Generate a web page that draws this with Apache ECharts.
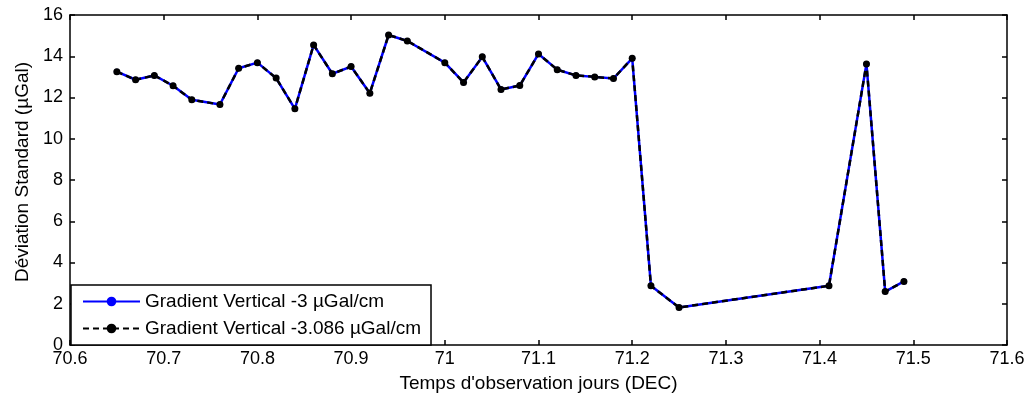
<!DOCTYPE html>
<html><head><meta charset="utf-8">
<script src="https://cdn.jsdelivr.net/npm/echarts@6/dist/echarts.min.js"></script>
<style>html,body{margin:0;padding:0;background:#fff}#c{width:1030px;height:398px}</style>
</head><body><div id="c"></div>
<script>
const xDays = [70.65,70.67,70.69,70.71,70.73,70.76,70.78,70.80,70.82,70.84,70.86,70.88,70.90,70.92,70.94,70.96,71.00,71.02,71.04,71.06,71.08,71.10,71.12,71.14,71.16,71.18,71.20,71.22,71.25,71.41,71.45,71.47,71.49];
const stdDev3 = [13.25,12.86,13.07,12.57,11.89,11.66,13.42,13.69,12.94,11.45,14.55,13.15,13.50,12.21,15.03,14.74,13.69,12.73,13.97,12.39,12.58,14.11,13.35,13.07,13.00,12.92,13.90,2.87,1.82,2.87,13.63,2.59,3.08];
const stdDev3086 = [13.25,12.86,13.07,12.57,11.89,11.66,13.42,13.69,12.94,11.45,14.55,13.15,13.50,12.21,15.03,14.74,13.69,12.73,13.97,12.39,12.58,14.11,13.35,13.07,13.00,12.92,13.90,2.87,1.82,2.87,13.63,2.59,3.08];
const seriesNames = ['Gradient Vertical -3 \u00b5Gal/cm','Gradient Vertical -3.086 \u00b5Gal/cm'];

const font = 'Liberation Sans, Arial, sans-serif';
const fs = 18, fsT = 19;
const chart = echarts.init(document.getElementById('c'));
const axisCommon = {
  axisLine:{show:true,onZero:false,lineStyle:{color:'#000',width:1.5}},
  axisTick:{show:true,inside:true,length:5,lineStyle:{color:'#000',width:1.5}},
  splitLine:{show:false}
};
chart.setOption({
  animation:false,
  backgroundColor:'#fff',
  grid:{left:70,right:23,top:15,bottom:52,show:false},
  legend:{
    orient:'vertical', left:71, top:285, padding:[7,10,7,11],
    backgroundColor:'#fff', borderColor:'#000', borderWidth:1.5,
    itemWidth:57, itemHeight:12, itemGap:8,
    textStyle:{fontFamily:font,fontSize:fsT,color:'#000'},
    data:seriesNames
  },
  xAxis:[
    Object.assign({type:'value',min:70.6,max:71.6,interval:0.1,position:'bottom',
      name:"Temps d'observation jours (DEC)",nameLocation:'middle',nameGap:29,
      nameTextStyle:{fontFamily:font,fontSize:fsT,color:'#000'},
      axisLabel:{fontFamily:font,fontSize:fs,color:'#000',margin:5,formatter:v=>String(+v.toFixed(1))}},axisCommon),
    Object.assign({type:'value',min:70.6,max:71.6,interval:0.1,position:'top',axisLabel:{show:false}},axisCommon)
  ],
  yAxis:[
    Object.assign({type:'value',min:0,max:16,interval:2,position:'left',
      name:'D\u00e9viation Standard (\u00b5Gal)',nameLocation:'middle',nameGap:38,
      nameTextStyle:{fontFamily:font,fontSize:fsT,color:'#000',padding:[0,0,0,16]},
      axisLabel:{fontFamily:font,fontSize:fs,color:'#000',margin:7}},axisCommon),
    Object.assign({type:'value',min:0,max:16,interval:2,position:'right',axisLabel:{show:false}},axisCommon)
  ],
  series:[
    {name:seriesNames[0],type:'line',xAxisIndex:0,yAxisIndex:0,
      data:xDays.map((x,i)=>[x,stdDev3[i]]),
      symbol:'circle',symbolSize:6,showSymbol:true,
      lineStyle:{color:'#0000ff',width:2.5},itemStyle:{color:'#0000ff'}},
    {name:seriesNames[1],type:'line',xAxisIndex:0,yAxisIndex:0,
      data:xDays.map((x,i)=>[x,stdDev3086[i]]),
      symbol:'circle',symbolSize:7,showSymbol:true,
      lineStyle:{color:'#000',width:2.5,type:[6,4]},itemStyle:{color:'#000'}}
  ]
});
</script></body></html>
